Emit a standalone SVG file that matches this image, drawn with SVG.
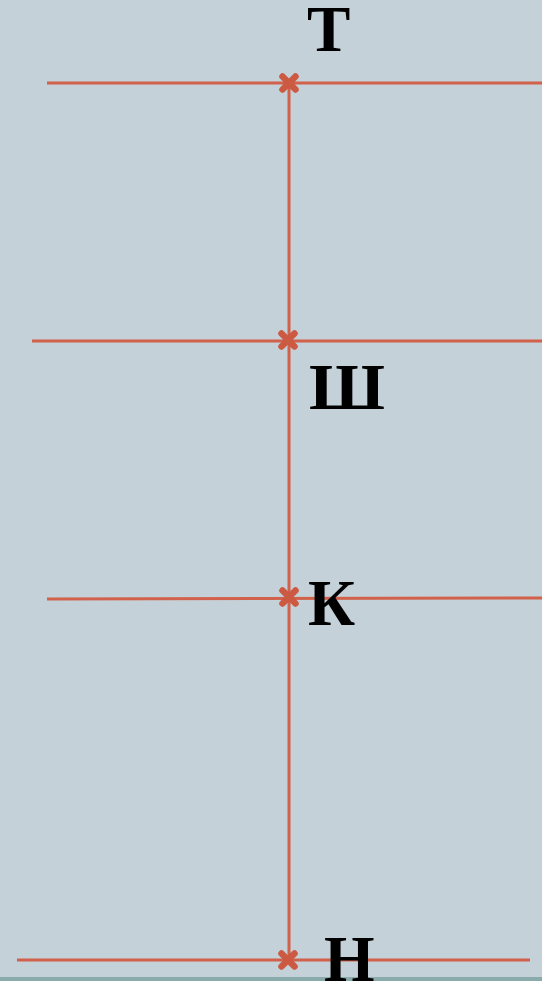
<svg xmlns="http://www.w3.org/2000/svg" width="542" height="981" viewBox="0 0 542 981">
<defs>
<style>
.ln{stroke:#d1614b;stroke-width:3;fill:none}
.mk{stroke:#cc5a43;stroke-width:6.5;stroke-linecap:round;fill:none}
.lb{font-family:"Liberation Serif","Times New Roman",serif;font-weight:bold;font-size:65px;fill:#000}
</style>
<g id="x"><path class="mk" d="M-6.5,-6.5L6.5,6.5M6.5,-6.5L-6.5,6.5"/></g>
</defs>
<rect width="542" height="981" fill="#c5d1d8"/>
<rect y="977" width="542" height="4" fill="#8aabab"/>
<g id="connectors">
<line class="ln" x1="47" y1="83" x2="542" y2="83"/>
<line class="ln" x1="32" y1="341" x2="542" y2="341"/>
<line class="ln" x1="47" y1="599" x2="542" y2="598"/>
<line class="ln" x1="17" y1="960" x2="530" y2="960"/>
<line class="ln" x1="289" y1="83" x2="289" y2="960"/>
</g>
<g id="node-T"><use href="#x" x="289" y="83"/><text class="lb" x="307" y="51">Т</text></g>
<g id="node-Sh"><use href="#x" x="288" y="340"/><text class="lb" x="309" y="409" textLength="76" lengthAdjust="spacingAndGlyphs">Ш</text></g>
<g id="node-K"><use href="#x" x="289" y="597"/><text class="lb" x="308" y="625">К</text></g>
<g id="node-N"><use href="#x" x="288" y="960"/><text class="lb" x="324" y="981">Н</text></g>
</svg>
